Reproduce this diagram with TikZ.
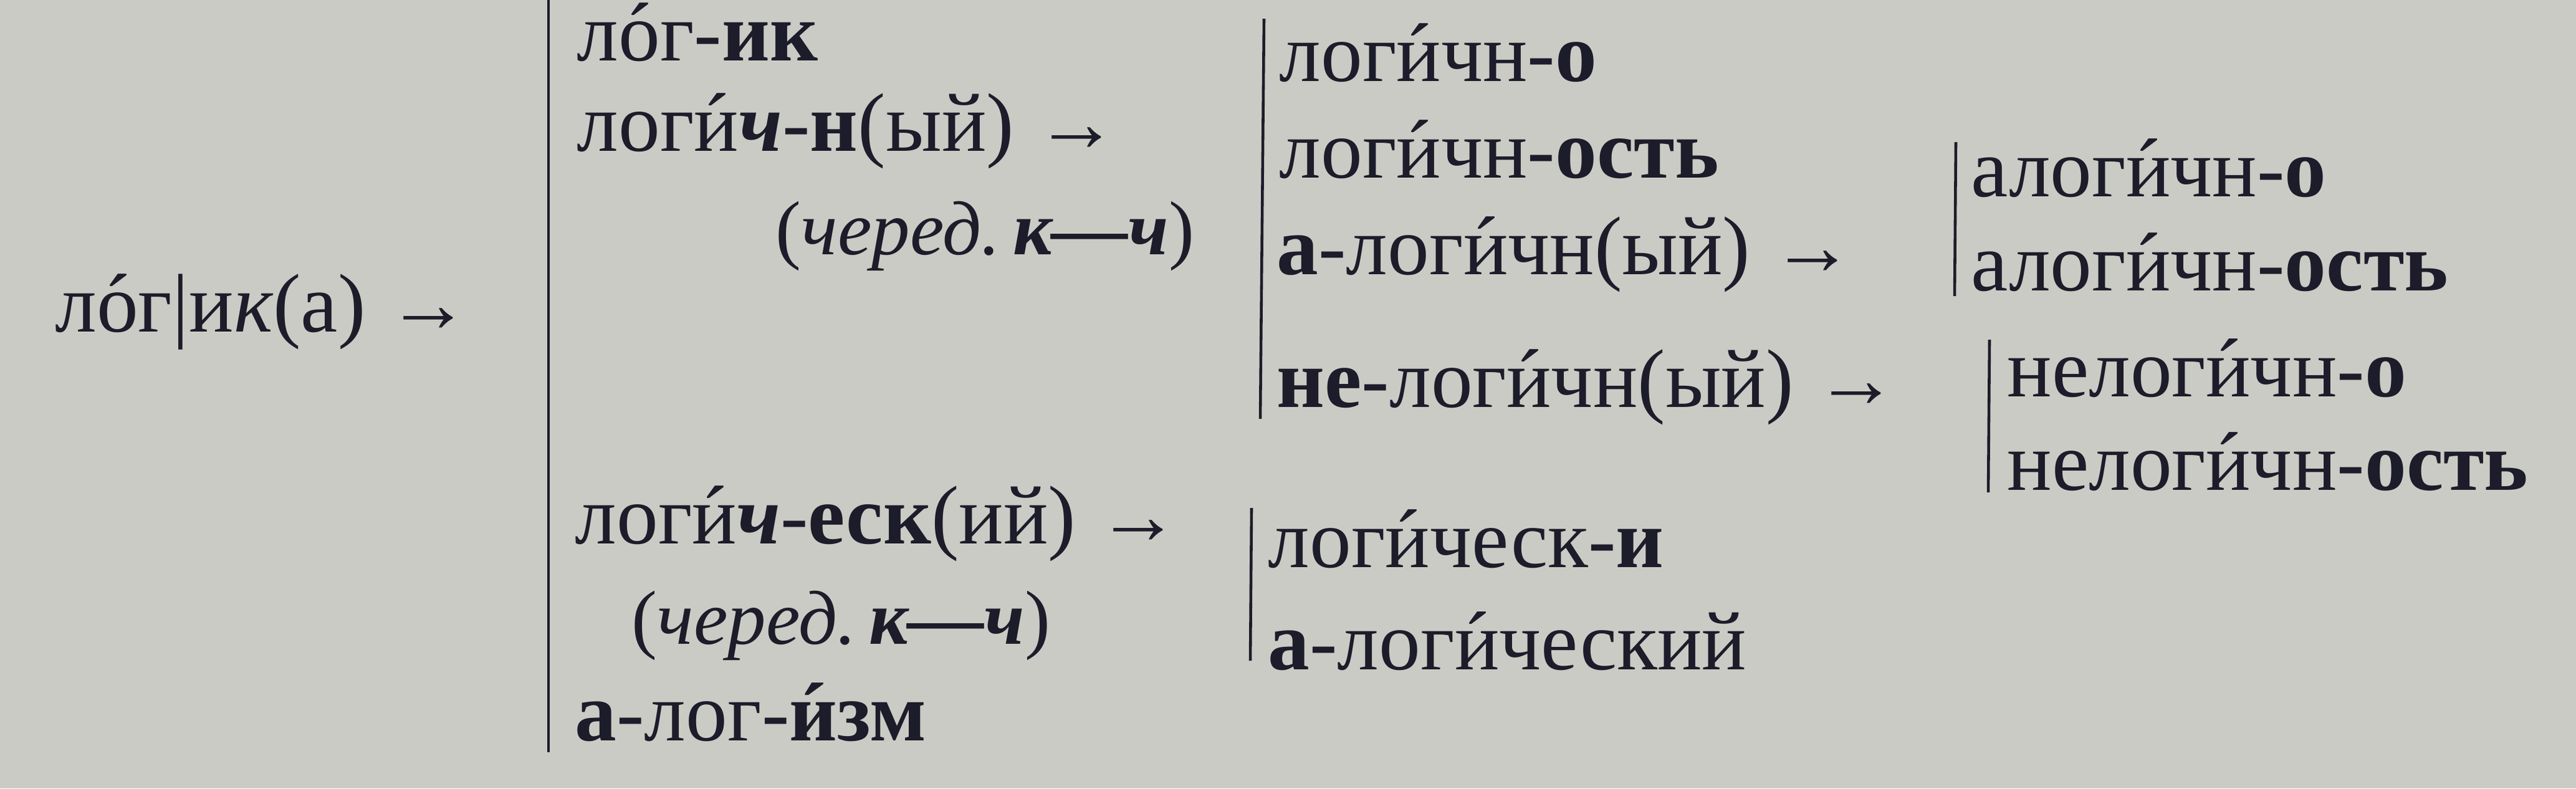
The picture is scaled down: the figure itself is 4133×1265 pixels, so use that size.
\documentclass[tikz,border=0pt]{standalone}
\usepackage{fontspec}
\setmainfont{Liberation Serif}
\usetikzlibrary{positioning}
\definecolor{paper}{RGB}{203,203,197}
\definecolor{ink}{RGB}{28,28,42}
% stress mark over a vowel
\newcommand{\udar}[1]{\ooalign{#1\cr\hidewidth\char"00B4\hidewidth\cr}}

\begin{document}
\begin{tikzpicture}[x=0.1mm,y=-0.1mm]
			\tikzset{word/.style = {anchor=base west, inner sep=0pt, text=ink, font=\fontsize{38}{40}\selectfont}}
			\tikzset{note/.style = {word, anchor=base east, font=\fontsize{35}{37}\selectfont}}
			\tikzset{bar/.style = {draw=ink, line width=1.3pt}}
			% background
			\useasboundingbox (0,0) rectangle (4133,1265);
			\fill[paper] (0,0) rectangle (4133,1265);
			% root
			\node[word] (root) at (88,532) {л\udar{о}г|и\textit{к}(а) →};
			% first step
			\node[word] (logik) at (925,97) {л\udar{о}г-\textbf{ик}};
			\node[word] (logichn) at (925,242) {лог\udar{и}\textbf{\textit{ч}}-\textbf{н}(ый) →};
			\node[note] (chered1) at (1917,408) {(\textit{черед.}\,\textbf{\textit{к—ч}})};
			\node[word] (logichesk) at (922,872) {лог\udar{и}\textbf{\textit{ч}}-\textbf{еск}(ий) →};
			\node[note] (chered2) at (1686,1033) {(\textit{черед.}\,\textbf{\textit{к—ч}})};
			\node[word] (alogizm) at (922,1188) {\textbf{а}-лог-\textbf{\udar{и}зм}};
			% second step
			\node[word] (logichno) at (2052,130) {лог\udar{и}чн-\textbf{о}};
			\node[word] (logichnost) at (2052,285) {лог\udar{и}чн-\textbf{ость}};
			\node[word] (alogichn) at (2048,440) {\textbf{а}-лог\udar{и}чн(ый) →};
			\node[word] (nelogichn) at (2048,653) {\textbf{не}-лог\udar{и}чн(ый) →};
			\node[word] (logicheski) at (2034,910) {лог\udar{и}ческ-\textbf{и}};
			\node[word] (alogicheskij) at (2034,1074) {\textbf{а}-лог\udar{и}ческий};
			% third step
			\node[word] (alogichno) at (3162,315) {алог\udar{и}чн-\textbf{о}};
			\node[word] (alogichnost) at (3162,466) {алог\udar{и}чн-\textbf{ость}};
			\node[word] (nelogichno) at (3220,636) {нелог\udar{и}чн-\textbf{о}};
			\node[word] (nelogichnost) at (3220,786) {нелог\udar{и}чн-\textbf{ость}};
			% bars
			\draw[bar] (880,0) -- (880,1207);
			\draw[bar] (2028,30) -- (2022,672);
			\draw[bar] (2008,815) -- (2006,1060);
			\draw[bar] (3138,228) -- (3136,475);
			\draw[bar] (3192,545) -- (3190,790);
		\end{tikzpicture}
\end{document}
